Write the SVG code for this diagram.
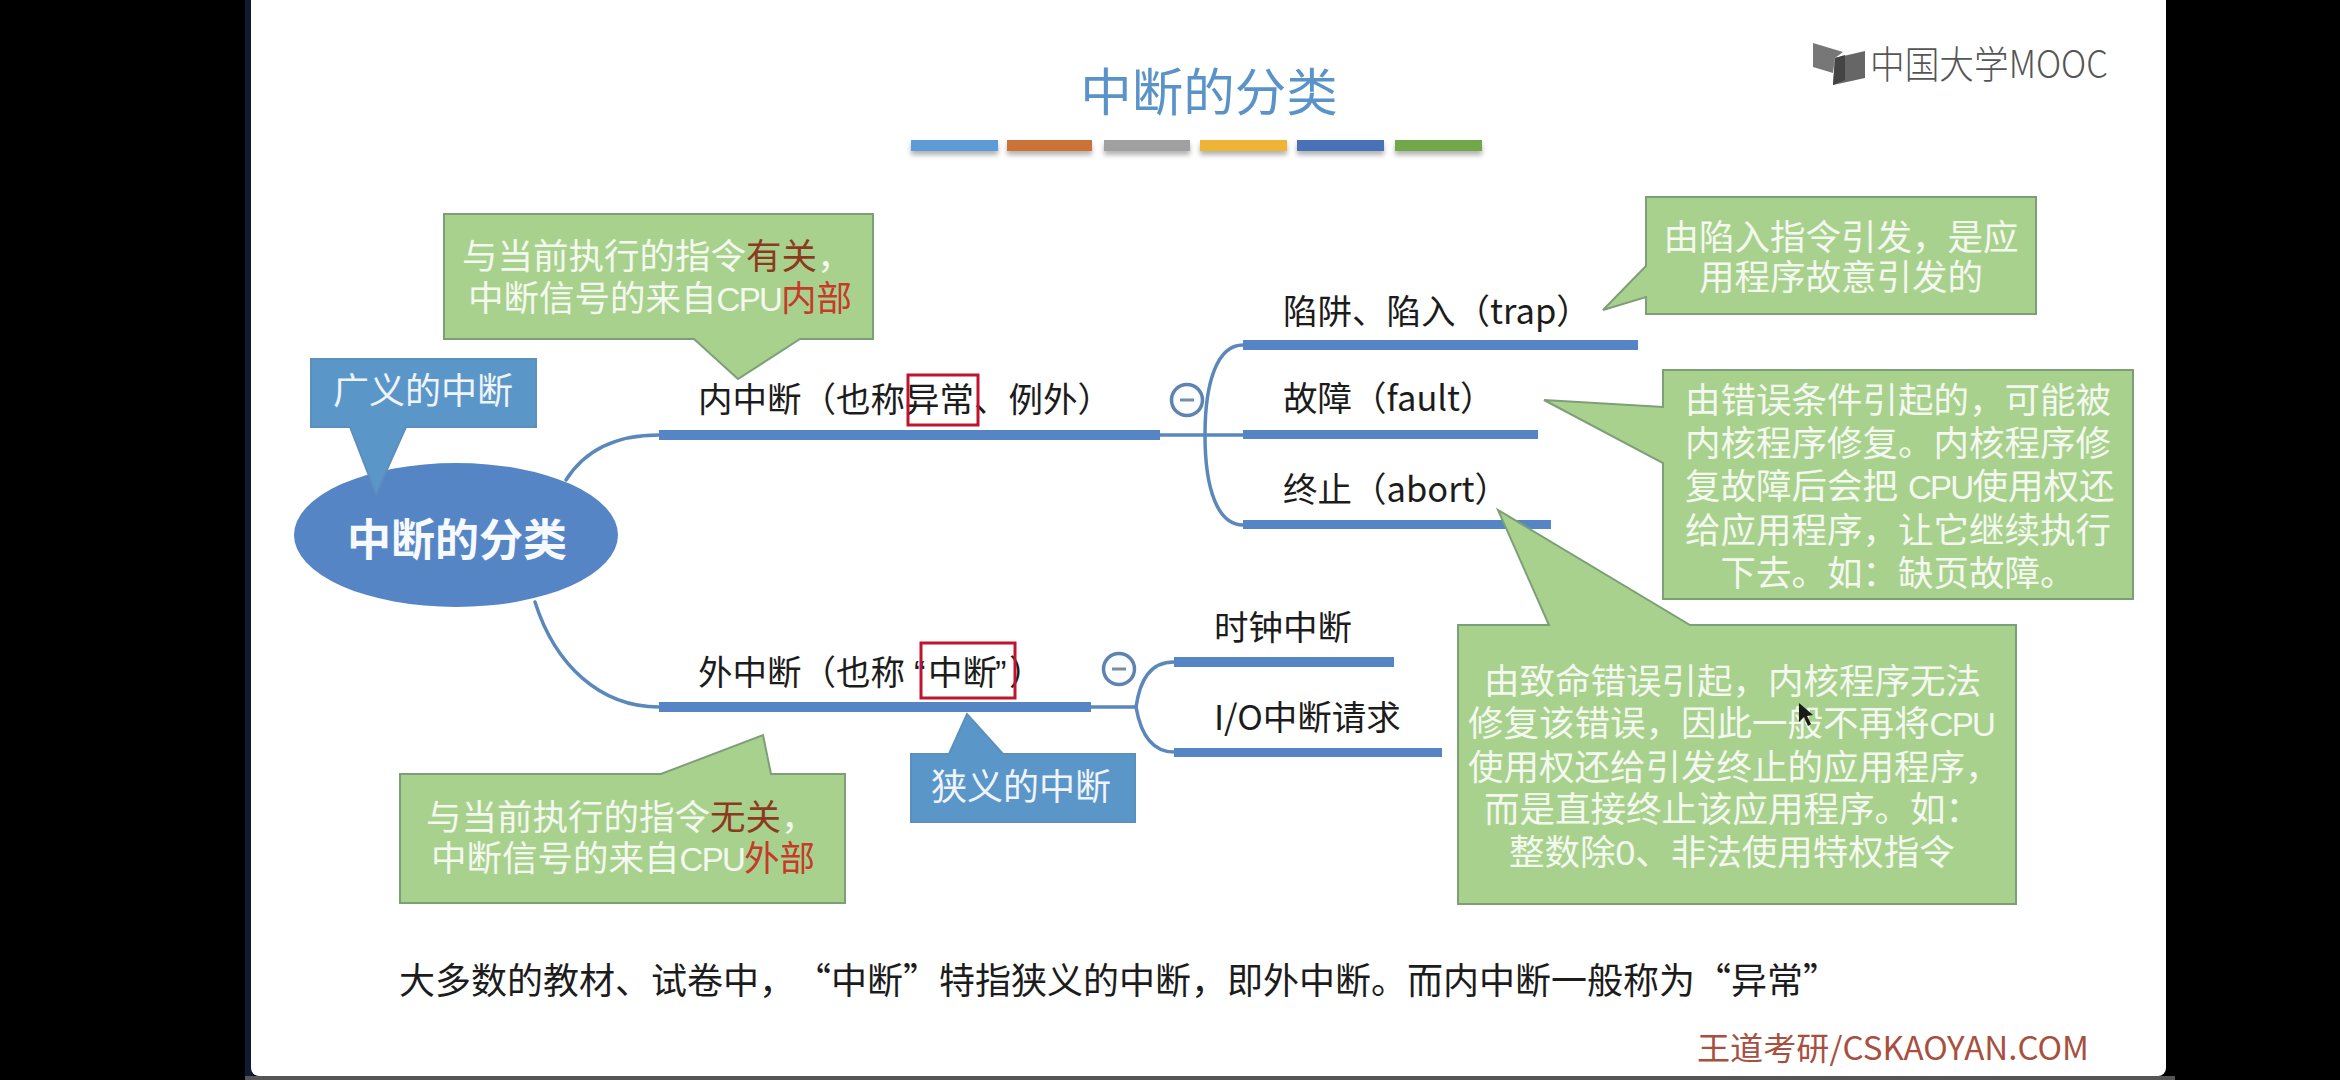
<svg xmlns="http://www.w3.org/2000/svg" width="2340" height="1080" viewBox="0 0 2340 1080">
<style>
text{font-family:"Noto Sans CJK SC","Noto Sans",sans-serif;white-space:pre;text-spacing-trim:space-all}
.lbl{font-size:34.5px;fill:#1c1c1c}
.g{fill:#a9d18e;stroke:#7d9f78;stroke-width:2}
.b{fill:#5b96c9;stroke:#5b8fbd;stroke-width:2}
.gt{font-family:"Liberation Sans","Noto Sans CJK SC",sans-serif;font-size:35.5px;fill:#f4f9ef;text-anchor:middle}
.gs{text-anchor:start}
.la{font-family:"Liberation Sans",sans-serif;font-size:33px;letter-spacing:-1.7px}
.bt{font-family:"Liberation Sans","Noto Sans CJK SC",sans-serif;font-size:36px;fill:#eef4fa;text-anchor:middle}
.q{font-family:"Liberation Sans",sans-serif}
.r1{fill:#8c3a1e}
.r2{fill:#c63a2a}
.thick{fill:#5585c5}
.thin{fill:none;stroke:#5b88bb;stroke-width:3.5;stroke-linecap:round}
.box{fill:none;stroke:#c0142e;stroke-width:3}
.cir{fill:#fbfcfe;stroke:#5f82b0;stroke-width:3.5}
.minus{stroke:#7c8ca0;stroke-width:3}
.bar{filter:url(#sh)}
</style>
<defs>
<filter id="sh" x="-10%" y="-50%" width="120%" height="250%"><feDropShadow dx="0" dy="4" stdDeviation="2.5" flood-color="#000" flood-opacity="0.3"/></filter>
</defs>
<rect x="0" y="0" width="2340" height="1080" fill="#000"/>
<rect x="245" y="0" width="8" height="1080" fill="#101a33"/>
<rect x="245" y="1076" width="1930" height="4" fill="#555"/>
<rect x="251" y="-10" width="1915" height="1086" rx="8" fill="#fff"/>

<g id="title">
<text x="1209" y="111" font-size="51.5" fill="#5a93c8" text-anchor="middle">中断的分类</text>
<rect class="bar" x="911" y="140" width="87" height="11" fill="#5b9bd5"/>
<rect class="bar" x="1007" y="140" width="85" height="11" fill="#cb7238"/>
<rect class="bar" x="1104" y="140" width="86" height="11" fill="#a0a0a0"/>
<rect class="bar" x="1200" y="140" width="87" height="11" fill="#eeb436"/>
<rect class="bar" x="1297" y="140" width="87" height="11" fill="#4a71b8"/>
<rect class="bar" x="1395" y="140" width="87" height="11" fill="#72a84a"/>
</g>

<g id="logo">
<polygon points="1813,43 1843,52 1835,58 1833,73 1813,67" fill="#777"/>
<polygon points="1835,58 1865,51 1865,78 1833,85" fill="#666"/>
<polygon points="1835,58 1845,55 1845,80 1833,85" fill="#444"/>
<text x="1870" y="78" font-size="38" font-weight="300" fill="#555" textLength="238" lengthAdjust="spacingAndGlyphs">中国大学MOOC</text>
</g>

<g id="connectors">
<path class="thin" d="M566,480 C585,450 615,435 659,435"/>
<path class="thin" d="M535,602 C555,665 600,707 659,707"/>
<path class="thin" d="M1160,435 H1243"/>
<path class="thin" d="M1205,435 C1205,380 1218,345 1243,345"/>
<path class="thin" d="M1205,435 C1205,490 1218,525 1243,525"/>
<path class="thin" d="M1091,707 H1136"/>
<path class="thin" d="M1136,707 C1140,680 1150,662 1174,662"/>
<path class="thin" d="M1136,707 C1140,730 1150,752 1174,752"/>
<rect class="thick" x="659" y="430" width="501" height="10"/>
<rect class="thick" x="659" y="702" width="432" height="10"/>
<rect class="thick" x="1243" y="340" width="395" height="10"/>
<rect class="thick" x="1243" y="430" width="295" height="9"/>
<rect class="thick" x="1243" y="520" width="308" height="9"/>
<rect class="thick" x="1174" y="657" width="220" height="10"/>
<rect class="thick" x="1174" y="748" width="268" height="9"/>
</g>

<g id="root">
<ellipse cx="456" cy="535" rx="162" ry="72" fill="#5585c5"/>
<text x="457" y="556" font-size="44" font-weight="700" fill="#f6f9fd" text-anchor="middle">中断的分类</text>
</g>

<g id="broad-note">
<path class="b" d="M311,359 H536 V427 H406 L376,494 L350,427 H311 Z"/>
<text class="bt" x="423" y="404">广义的中断</text>
</g>

<g id="narrow-note">
<path class="b" d="M911,754 H949 L967,714 L1003,754 H1135 V822 H911 Z"/>
<text class="bt" x="1021" y="800">狭义的中断</text>
</g>

<g id="internal-note">
<path class="g" d="M444,214 H873 V339 H800 L738,379 L694,339 H444 Z"/>
<text class="gt gs" x="462" y="269">与当前执行的指令<tspan class="r1">有关</tspan>，</text>
<text class="gt gs" x="468" y="311">中断信号的来自<tspan class="la">CPU</tspan><tspan class="r2">内部</tspan></text>
</g>

<g id="external-note">
<path class="g" d="M400,774 H661 L763,735 L771,774 H845 V903 H400 Z"/>
<text class="gt gs" x="426" y="830">与当前执行的指令<tspan class="r1">无关</tspan>，</text>
<text class="gt gs" x="431" y="871">中断信号的来自<tspan class="la">CPU</tspan><tspan class="r2">外部</tspan></text>
</g>

<g id="internal">
<text class="lbl" x="698" y="412">内中断（也称异常、例外）</text>
<rect class="box" x="908" y="375" width="70" height="50"/>
<circle class="cir" cx="1187" cy="400" r="15.5"/>
<line class="minus" x1="1180" y1="400" x2="1194" y2="400"/>
</g>

<g id="external">
<text class="lbl" x="698" y="685">外中断（也称<tspan class="q" x="914">“</tspan><tspan x="928">中断</tspan><tspan class="q" x="995">”</tspan><tspan x="1009">）</tspan></text>
<rect class="box" x="921" y="643" width="94" height="55"/>
<circle class="cir" cx="1119" cy="669" r="15.5"/>
<line class="minus" x1="1112" y1="669" x2="1126" y2="669"/>
</g>

<g id="trap"><text class="lbl" x="1283" y="324">陷阱、陷入（trap）</text></g>
<g id="fault"><text class="lbl" x="1283" y="411">故障（fault）</text></g>
<g id="abort"><text class="lbl" x="1283" y="502">终止（abort）</text></g>
<g id="clock"><text class="lbl" x="1214" y="640">时钟中断</text></g>
<g id="io"><text class="lbl" x="1214" y="730">I/O中断请求</text></g>

<g id="trap-note">
<path class="g" d="M1646,197 H2036 V314 H1646 V297 L1603,310 L1646,266 Z"/>
<text class="gt" x="1841" y="250">由陷入指令引发，是应</text>
<text class="gt" x="1841" y="290">用程序故意引发的</text>
</g>

<g id="fault-note">
<path class="g" d="M1663,370 H2133 V599 H1663 V463 L1544,400 L1663,407 Z"/>
<text class="gt" x="1898" y="413">由错误条件引起的，可能被</text>
<text class="gt" x="1898" y="456">内核程序修复。内核程序修</text>
<text class="gt gs" x="1685" y="499">复故障后会把 <tspan class="la">CPU</tspan>使用权还</text>
<text class="gt" x="1898" y="543">给应用程序，让它继续执行</text>
<text class="gt" x="1898" y="586">下去。如：缺页故障。</text>
</g>

<g id="abort-note">
<path class="g" d="M1458,625 H1549 L1498,510 L1690,625 H2016 V904 H1458 Z"/>
<text class="gt gs" x="1484" y="694">由致命错误引起，内核程序无法</text>
<text class="gt gs" x="1468" y="736">修复该错误，因此一般不再将<tspan class="la">CPU</tspan></text>
<text class="gt gs" x="1468" y="780">使用权还给引发终止的应用程序，</text>
<text class="gt gs" x="1484" y="822">而是直接终止该应用程序。如：</text>
<text class="gt gs" x="1509" y="865">整数除0、非法使用特权指令</text>
</g>

<polygon id="cursor" points="1799,703 1799,722 1804,717 1808,726 1811,724 1807,716 1813,715" fill="#1a1a1a"/>

<g id="footer">
<text x="399" y="994" font-size="36" fill="#1c1c1c">大多数的教材、试卷中，“中断”特指狭义的中断，即外中断。而内中断一般称为“异常”</text>
<text x="1697" y="1060" font-size="32" fill="#a8503f" textLength="392" lengthAdjust="spacingAndGlyphs">王道考研/CSKAOYAN.COM</text>
</g>
</svg>
